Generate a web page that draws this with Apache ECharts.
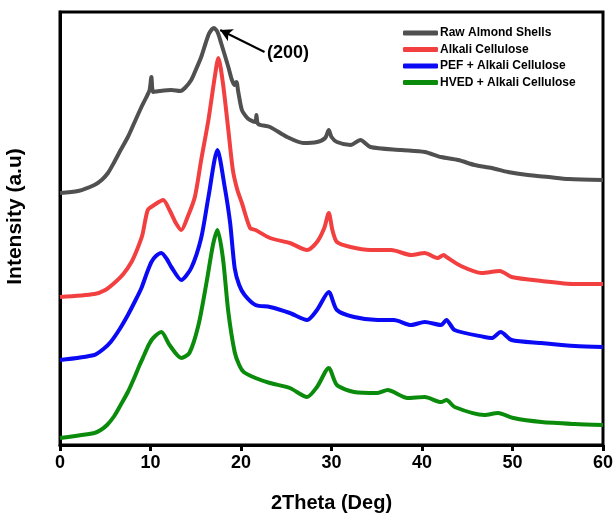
<!DOCTYPE html>
<html>
<head>
<meta charset="utf-8">
<script src="https://cdn.jsdelivr.net/npm/echarts@6/dist/echarts.min.js"></script>
<style>
  html, body { margin: 0; padding: 0; background: #fff; }
  #chart { width: 616px; height: 521px; }
</style>
</head>
<body>
<div id="chart"></div>
<script>
// XRD patterns, [2theta, intensity (a.u., stacked offsets)]
var rawShells = [
  [0,252],[2,254],[3.8,260],[4.6,265],[5.3,272],[6.0,283],[6.7,295],[7.5,308],[8.2,322],[9.0,338],[9.5,347],[9.9,355],[10.1,368],[10.3,353],
  [11,354],[12.3,355],[13.3,354],[13.8,357],[14.5,365],[15.0,375],[15.6,388],[16.1,402],[16.5,412],[17.0,417],[17.4,413],[17.8,402],
  [18.6,378],[19.0,365],[19.3,360],[19.5,363],[19.7,353],[20.1,335],[20.6,328],[21,325],[21.6,323],[21.7,330],
  [21.9,321],[23.2,318],[25.1,308],[26.9,302],[28.4,303],[29.3,307],[29.7,315],[30.0,308],[30.6,303],
  [32.1,300],[33.2,305],[34.3,298],[37.7,295],[40.3,293],[42.1,288],[44,285],[45.8,280],[47.7,277],
  [49.5,273],[51.7,270],[54,268],[56.2,266],[60,265]
];
var alkali = [
  [0,148],[3.8,151],[5,155],[6,162],[7,171],[7.9,183],[8.5,195],[9.1,210],[9.7,235],[10.4,240],[11.4,245],[12.1,235],[12.8,222],[13.4,215],
  [14.1,228],[14.9,248],[15.6,285],[16.4,325],[17.1,368],[17.5,387],[18,362],[18.6,315],[19.1,275],
  [19.6,255],[20.1,242],[21,217],[21.6,215],[23.2,207],[25.4,202],[27.3,195],[28.4,203],[29.2,217],[29.7,232],
  [30.1,215],[30.6,203],[32.1,198],[34.3,195],[36.6,195],[38.8,190],[40.3,192],[41.7,187],[42.4,190],
  [42.7,188],[44.3,179],[46.6,172],[48.6,174],[49.9,168],[53.2,164],[56.9,161],[60,161]
];
var pefAlkali = [
  [0,85],[3.8,90],[4.8,96],[5.6,103],[6.6,116],[7.5,130],[8.3,144],[9,157],[9.6,172],[10.1,183],[10.6,189],[11.2,192],[11.8,186],[12.3,178],[13.4,165],[14.5,177],
  [15.6,207],[16.4,248],[17.4,295],[18.2,258],[18.8,222],[19.3,177],[19.8,160],[20.4,150],[21.6,140],[23.2,138],
  [25.4,132],[27.3,125],[28.4,135],[29.7,153],[30.6,135],[32.5,128],[35.1,125],[36.9,125],[38.8,120],
  [40.3,123],[42.1,120],[42.7,125],[43.6,115],[46.9,108],[47.7,107],[48.7,113],[49.9,105],[53.2,102],
  [56.9,99],[60,98]
];
var hvedAlkali = [
  [0,7],[3.8,12],[4.5,15],[5.2,20],[6,29],[6.7,40],[7.5,53],[8.2,67],[8.8,80],[9.3,90],[9.8,100],[10.3,107],[11.2,113],[12.1,100],[13.4,87],
  [14.3,92],[15.3,120],[16.2,163],[16.9,200],[17.4,215],[18,187],[18.6,133],[19.3,93],[19.8,80],[20.3,73],
  [21.6,67],[23.2,62],[25.4,57],[27.3,48],[28.4,58],[29.7,77],[30.6,60],[32.5,53],[35.1,52],[36.2,55],
  [38.4,47],[40.3,48],[42.1,43],[42.7,45],[43.6,38],[46.9,30],[48.4,32],[50.1,27],[53.2,23],[56.9,21],
  [60,20]
];
var seriesNames = ['Raw Almond Shells', 'Alkali Cellulose', 'PEF + Alkali Cellulose', 'HVED + Alkali Cellulose'];
var seriesColors = ['#505050', '#f23f3f', '#0a0af5', '#0b8b0b'];

// (200) reflection label + arrow pointing at the raw shell peak
var peakLabel = '(200)';
var arrowFrom = [22.6, 393];
var arrowTo = [17.7, 415];
var labelAt = [25.2, 392];

var font = "'Liberation Sans', Arial, sans-serif";
var chart = echarts.init(document.getElementById('chart'), null, {renderer: 'canvas'});

function line(name, data, color, extra) {
  var s = {
    name: name,
    type: 'line',
    data: data,
    showSymbol: false,
    symbol: 'none',
    smooth: 0.25,
    lineStyle: {width: 4, color: color},
    itemStyle: {color: color},
    animation: false,
    z: 3
  };
  return Object.assign(s, extra || {});
}

var series = [
  line(seriesNames[0], rawShells, seriesColors[0], {
    markLine: {
      silent: true,
      symbol: ['none', 'arrow'],
      symbolSize: [10, 12],
      label: {show: false},
      lineStyle: {color: '#000', width: 2, type: 'solid'},
      data: [[{coord: arrowFrom}, {coord: arrowTo}]],
      animation: false
    },
    markPoint: {
      silent: true,
      symbol: 'rect',
      symbolSize: 1,
      itemStyle: {color: 'rgba(0,0,0,0)'},
      label: {
        show: true, position: 'inside', formatter: peakLabel,
        color: '#000', fontSize: 18, fontWeight: 'bold', fontFamily: font
      },
      data: [{coord: labelAt}],
      animation: false
    }
  }),
  line(seriesNames[1], alkali, seriesColors[1]),
  line(seriesNames[2], pefAlkali, seriesColors[2]),
  line(seriesNames[3], hvedAlkali, seriesColors[3])
];

chart.setOption({
  backgroundColor: '#fff',
  animation: false,
  grid: {
    left: 60, right: 13, top: 12, bottom: 76,
    outerBoundsMode: 'none',
    containLabel: false,
    show: true, borderColor: '#000', borderWidth: 3
  },
  legend: {
    data: seriesNames,
    orient: 'vertical',
    left: 398, top: 21,
    icon: 'roundRect',
    itemWidth: 35, itemHeight: 5,
    itemGap: 2.5,
    textStyle: {
      fontFamily: font, fontWeight: 'bold', fontSize: 12, color: '#000', lineHeight: 14,
      padding: [0, 0, 0, -3]
    }
  },
  xAxis: {
    type: 'value',
    min: 0, max: 60, interval: 10,
    name: '2Theta (Deg)',
    nameLocation: 'middle',
    nameGap: 48,
    nameTextStyle: {fontFamily: font, fontWeight: 'bold', fontSize: 20, color: '#000'},
    axisLine: {show: true, lineStyle: {color: '#000', width: 3}},
    axisTick: {show: true, inside: false, length: 6, lineStyle: {color: '#000', width: 3}},
    axisLabel: {fontFamily: font, fontWeight: 'bold', fontSize: 18, color: '#000', margin: 9},
    splitLine: {show: false}
  },
  yAxis: {
    type: 'value',
    min: 0, max: 433,
    name: 'Intensity (a.u)',
    nameLocation: 'middle',
    nameGap: 34,
    nameTextStyle: {
      fontFamily: font, fontWeight: 'bold', fontSize: 21, color: '#000',
      padding: [0, 0, 0, 24]
    },
    axisLine: {show: true, lineStyle: {color: '#000', width: 3}},
    axisTick: {show: false},
    axisLabel: {show: false},
    splitLine: {show: false}
  },
  series: series
});
</script>
</body>
</html>
